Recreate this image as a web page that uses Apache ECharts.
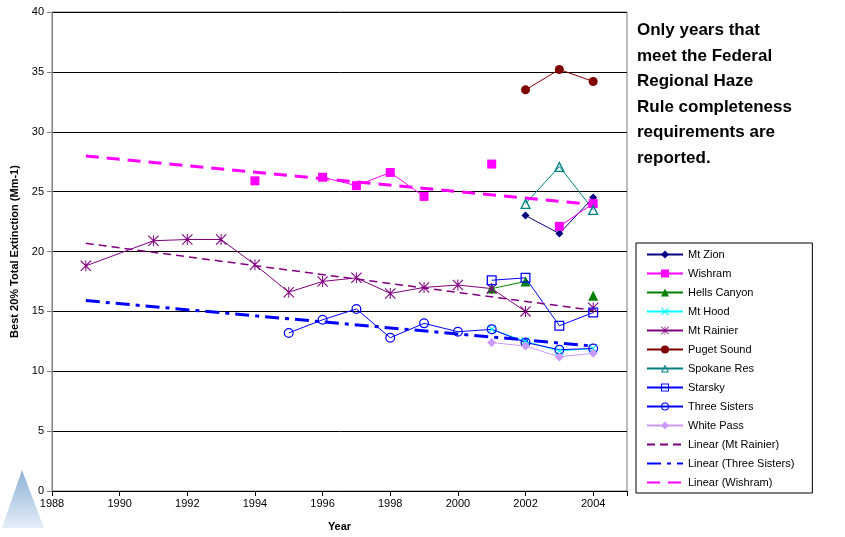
<!DOCTYPE html>
<html>
<head>
<meta charset="utf-8">
<script src="https://cdn.jsdelivr.net/npm/echarts@6/dist/echarts.min.js"></script>
<style>
html,body{margin:0;padding:0;background:#fff;}
#chart{width:845px;height:537px;}
</style>
</head>
<body>
<div id="chart"></div>
<script>
// ---- data ----
var years = [1989,1991,1992,1993,1994,1995,1996,1997,1998,1999,2000,2001,2002,2003,2004];
var mtZion      = [null,null,null,null,null,null,null,null,null,null,null,null,23.0,21.5,24.5];
var wishram     = [null,null,null,null,25.9,null,26.2,25.5,26.6,24.6,null,27.3,null,22.1,24.0];
var hellsCanyon = [null,null,null,null,null,null,null,null,null,null,null,16.9,17.5,null,16.3];
var mtHood      = [null,null,null,null,null,null,null,null,null,null,null,13.5,12.5,11.7,11.9];
var mtRainier   = [18.8,20.9,21.0,21.0,18.9,16.6,17.5,17.8,16.5,17.0,17.2,16.9,15.0,null,15.3];
var pugetSound  = [null,null,null,null,null,null,null,null,null,null,null,null,33.5,35.2,34.2];
var spokaneRes  = [null,null,null,null,null,null,null,null,null,null,null,null,24.0,27.1,23.5];
var starsky     = [null,null,null,null,null,null,null,null,null,null,null,17.6,17.8,13.8,14.9];
var threeSisters= [null,null,null,null,null,13.2,14.3,15.2,12.8,14.0,13.3,13.5,12.4,11.8,11.9];
var whitePass   = [null,null,null,null,null,null,null,null,null,null,null,12.4,12.1,11.2,11.5];
var trendStart = 1989, trendEnd = 2004;
var yTicks = [0,5,10,15,20,25,30,35,40];
var xTicks = [1988,1990,1992,1994,1996,1998,2000,2002,2004];
var note = ['Only years that','meet the Federal','Regional Haze','Rule completeness','requirements are','reported.'];

function pairs(arr){ return years.map(function(y,i){ return [y, arr[i]]; }); }
function trend(arr){
  var xs=[], ys=[];
  years.forEach(function(y,i){ if(arr[i]!=null){ xs.push(y); ys.push(arr[i]); } });
  var n=xs.length, mx=0, my=0;
  for(var i=0;i<n;i++){ mx+=xs[i]; my+=ys[i]; }
  mx/=n; my/=n;
  var sxy=0, sxx=0;
  for(i=0;i<n;i++){ sxy+=(xs[i]-mx)*(ys[i]-my); sxx+=(xs[i]-mx)*(xs[i]-mx); }
  var b=sxy/sxx, a=my-b*mx;
  return [[trendStart, a+b*trendStart],[trendEnd, a+b*trendEnd]];
}

var FONT = '"Liberation Sans", Arial, sans-serif';
var xSym = 'path://M0,0.8L0.8,0L10,9.2L9.2,10ZM9.2,0L10,0.8L0.8,10L0,9.2Z';
var starSym = 'path://M0,0.7L0.7,0L10,9.3L9.3,10ZM9.3,0L10,0.7L0.7,10L0,9.3ZM4.55,0L5.45,0L5.45,10L4.55,10Z';
var ringRect = 'path://M0,0L10,0L10,10L0,10ZM1.25,1.25L1.25,8.75L8.75,8.75L8.75,1.25Z';
var ringTri = 'path://M5,0L10,10L0,10ZM5,2.8L1.9,8.8L8.1,8.8Z';
var ringCircle = 'path://M5,0A5,5 0 1 1 4.99,0ZM5,1.25A3.75,3.75 0 1 0 5.01,1.25Z';

function ser(name, arr, color, symbol, size){
  return {
    name: name, type: 'line', data: pairs(arr), connectNulls: false,
    showAllSymbol: true, symbol: symbol, symbolSize: size,
    lineStyle: {color: color, width: 1},
    itemStyle: {color: color, borderWidth: 0},
    emphasis: {disabled: true}, animation: false
  };
}
function trendSer(name, arr, color, width, dash){
  return {
    name: name, type: 'line', data: trend(arr), symbol: 'circle', showSymbol: false, symbolSize: 0,
    lineStyle: {color: color, width: width, type: dash},
    itemStyle: {color: color, opacity: 0},
    emphasis: {disabled: true}, animation: false
  };
}

var series = [
  ser('Mt Zion', mtZion, '#000080', 'diamond', 8),
  ser('Wishram', wishram, '#FF00FF', 'rect', 9),
  ser('Hells Canyon', hellsCanyon, '#008000', 'triangle', 10),
  ser('Mt Hood', mtHood, '#00FFFF', xSym, 9),
  ser('Mt Rainier', mtRainier, '#800080', starSym, 11),
  ser('Puget Sound', pugetSound, '#800000', 'circle', 9),
  ser('Spokane Res', spokaneRes, '#008080', ringTri, 11),
  ser('Starsky', starsky, '#0000FF', ringRect, 10),
  ser('Three Sisters', threeSisters, '#0000FF', ringCircle, 10),
  ser('White Pass', whitePass, '#CC99FF', 'diamond', 9),
  trendSer('Linear (Mt Rainier)', mtRainier, '#800080', 1.5, [8,5]),
  trendSer('Linear (Three Sisters)', threeSisters, '#0000FF', 3, [14,6,4,6]),
  trendSer('Linear (Wishram)', wishram, '#FF00FF', 3, [13,8])
];

var chart = echarts.init(document.getElementById('chart'), null, {renderer:'canvas'});
chart.setOption({
  backgroundColor: '#fff',
  animation: false,
  textStyle: {fontFamily: FONT},
  grid: {left: 52, right: 218, top: 12, bottom: 46, show: true, borderColor: '#808080', borderWidth: 1, backgroundColor: 'transparent'},
  xAxis: {
    type: 'value', min: xTicks[0], max: 2005, interval: 2,
    name: 'Year', nameLocation: 'middle', nameGap: 30,
    nameTextStyle: {fontSize: 11, fontWeight: 'bold', color: '#000', fontFamily: FONT},
    axisLine: {show: true, onZero: false, lineStyle: {color: '#000', width: 1}},
    axisTick: {show: true, length: 5, lineStyle: {color: '#000'}},
    axisLabel: {fontSize: 11, color: '#000', margin: 7, fontFamily: FONT,
      formatter: function(v){ return xTicks.indexOf(v) >= 0 ? String(v) : ''; }},
    splitLine: {show: false}
  },
  yAxis: {
    type: 'value', min: yTicks[0], max: yTicks[yTicks.length-1], interval: 5,
    name: 'Best 20% Total Extinction (Mm-1)', nameLocation: 'middle', nameGap: 28,
    nameTextStyle: {fontSize: 11, fontWeight: 'bold', color: '#000', fontFamily: FONT},
    axisLine: {show: true, lineStyle: {color: '#808080', width: 1}},
    axisTick: {show: true, length: 5, lineStyle: {color: '#808080'}},
    axisLabel: {fontSize: 11, color: '#000', margin: 8, fontFamily: FONT},
    splitLine: {show: true, lineStyle: {color: '#000', width: 1}}
  },
  legend: {
    orient: 'vertical', left: 636, top: 243,
    padding: [6, 18, 5, 10], itemWidth: 36, itemHeight: 10, itemGap: 8,
    borderColor: '#000', borderWidth: 1, backgroundColor: '#fff',
    textStyle: {fontSize: 11, color: '#000', fontFamily: FONT},
    selectedMode: false,
    data: series.map(function(s){ return s.name; })
  },
  graphic: [
    {type: 'text', left: 637, top: 18, silent: true,
      style: {text: note.join('\n'), font: 'bold 17px ' + FONT, fill: '#000', lineHeight: 25.5}},
    {type: 'polygon', silent: true, z: -1,
      shape: {points: [[22,470],[2,528],[44,528]]},
      style: {fill: new echarts.graphic.LinearGradient(0,0,0,1,[{offset:0,color:'#2f6fb5'},{offset:1,color:'#cfe0f2'}]), opacity: 0.55}}
  ],
  series: series
});
</script>
</body>
</html>
